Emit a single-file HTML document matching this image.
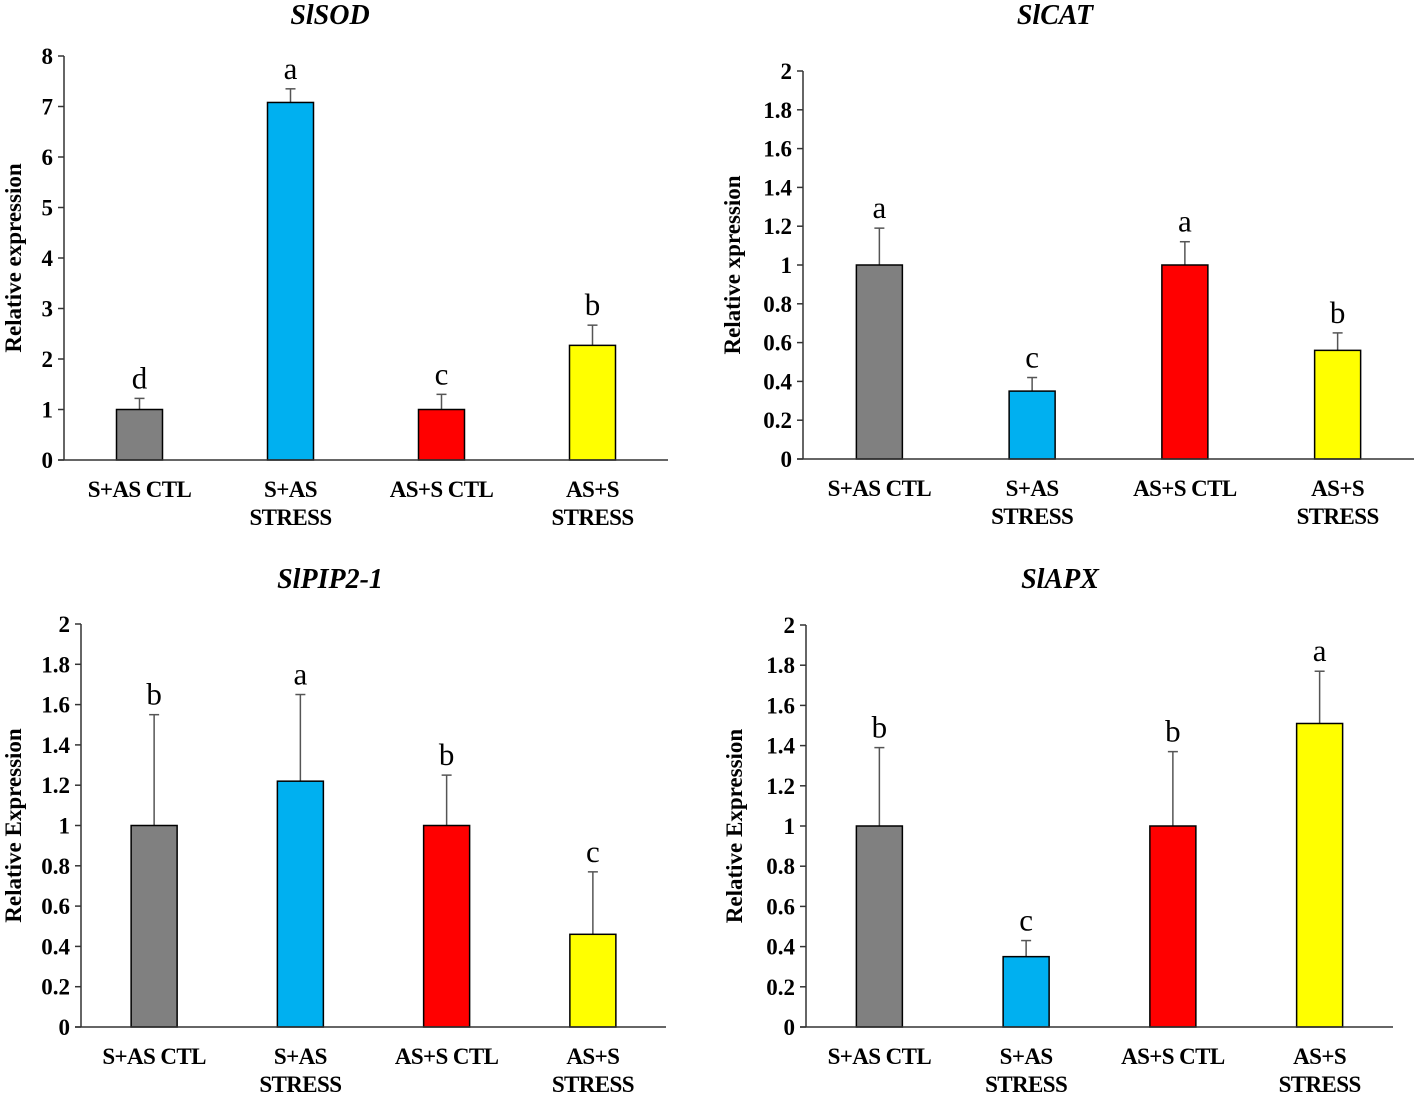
<!DOCTYPE html>
<html>
<head>
<meta charset="utf-8">
<style>
html,body{margin:0;padding:0;background:#fff;}
svg{display:block;}
svg text{font-family:"Liberation Serif",serif;fill:#000;}
.title{font-size:28px;font-weight:bold;font-style:italic;}
.ytitle{font-size:23px;font-weight:bold;}
.tick{font-size:23px;font-weight:bold;}
.letter{font-size:31px;}
.xlab{font-size:23px;font-weight:bold;letter-spacing:-0.6px;}
</style>
</head>
<body>
<svg id="fig" width="1417" height="1093" viewBox="0 0 1417 1093" xmlns="http://www.w3.org/2000/svg"></svg>
<script>
// Shared categories and colors
const categories = [["S+AS CTL"], ["S+AS", "STRESS"], ["AS+S CTL"], ["AS+S", "STRESS"]];
const barColors = ["#808080", "#00b0f0", "#ff0000", "#ffff00"];

// SlSOD
const sodValues = [1, 7.08, 1, 2.27];
const sodErrTop = [1.22, 7.35, 1.3, 2.67];
const sodLetters = ["d", "a", "c", "b"];
const sodTicks = ["0","1","2","3","4","5","6","7","8"];

// SlCAT
const catValues = [1, 0.35, 1, 0.56];
const catErrTop = [1.19, 0.42, 1.12, 0.65];
const catLetters = ["a", "c", "a", "b"];
const catTicks = ["0","0.2","0.4","0.6","0.8","1","1.2","1.4","1.6","1.8","2"];

// SlPIP2-1
const pipValues = [1, 1.22, 1, 0.46];
const pipErrTop = [1.55, 1.65, 1.25, 0.77];
const pipLetters = ["b", "a", "b", "c"];
const pipTicks = ["0","0.2","0.4","0.6","0.8","1","1.2","1.4","1.6","1.8","2"];

// SlAPX
const apxValues = [1, 0.35, 1, 1.51];
const apxErrTop = [1.39, 0.43, 1.37, 1.77];
const apxLetters = ["b", "c", "b", "a"];
const apxTicks = ["0","0.2","0.4","0.6","0.8","1","1.2","1.4","1.6","1.8","2"];

const NS = "http://www.w3.org/2000/svg";
const svg = document.getElementById("fig");

function mk(tag, attrs, parent) {
  const e = document.createElementNS(NS, tag);
  for (const k in attrs) e.setAttribute(k, attrs[k]);
  parent.appendChild(e);
  return e;
}

function panel(cfg) {
  const g = mk("g", {}, svg);
  
  
  const yMax = parseFloat(cfg.ticks[cfg.ticks.length - 1]);
  const yScale = v => cfg.y0 - (v / yMax) * (cfg.y0 - cfg.yTop);
  const step = (cfg.x1 - cfg.x0) / cfg.values.length;
  const xCenter = i => cfg.x0 + step * (i + 0.5);

  const t = mk("text", {x: cfg.titleX, y: cfg.titleY, "text-anchor": "middle", "class": "title"}, g);
  t.textContent = cfg.title;
  
  

  const yc = (cfg.y0 + cfg.yTop) / 2;
  const ya = mk("text", {x: 0, y: 0, transform: `translate(${cfg.yTitleX},${yc}) rotate(-90)`, "text-anchor": "middle", "class": "ytitle"}, g);
  ya.textContent = cfg.yTitle;
  
  

  cfg.ticks.forEach(lbl => {
    const v = parseFloat(lbl);
    const y = yScale(v);
    const tk = mk("line", {x1: cfg.x0 - 6, x2: cfg.x0, y1: y, y2: y, stroke: "#333", "stroke-width": 1.5}, g);
    
    
    const tl = mk("text", {x: cfg.x0 - 11, y: y + 8, "text-anchor": "end", "class": "tick"}, g);
    tl.textContent = lbl;
    
    
  });

  cfg.values.forEach((v, i) => {
    const cx = xCenter(i);
    const bw = 46;
    const top = yScale(v);
    const et = yScale(cfg.errTop[i]);
    const el = mk("line", {x1: cx, x2: cx, y1: top, y2: et, stroke: "#555", "stroke-width": 1.5}, g);
    
    
    const ec = mk("line", {x1: cx - 5, x2: cx + 5, y1: et, y2: et, stroke: "#555", "stroke-width": 1.5}, g);
    
    
    const r = mk("rect", {x: cx - bw / 2, y: top, width: bw, height: cfg.y0 - top, fill: barColors[i], stroke: "#000", "stroke-width": 1.5}, g);
    
    
    const lt = mk("text", {x: cx, y: et - 10, "text-anchor": "middle", "class": "letter"}, g);
    lt.textContent = cfg.letters[i];
    
    
    categories[i].forEach((line, j) => {
      const xl = mk("text", {x: cx, y: cfg.y0 + 37 + j * 28, "text-anchor": "middle", "class": "xlab"}, g);
      xl.textContent = line;
      
      
    });
  });

  const yl = mk("line", {x1: cfg.x0, x2: cfg.x0, y1: cfg.yTop, y2: cfg.y0, stroke: "#333", "stroke-width": 1.5}, g);
  
  
  const xl = mk("line", {x1: cfg.x0 - 6, x2: cfg.x1, y1: cfg.y0, y2: cfg.y0, stroke: "#333", "stroke-width": 1.5}, g);
  
  
}

panel({key: "slsod", title: "SlSOD", titleX: 330, titleY: 24, yTitle: "Relative expression", yTitleX: 21,
  x0: 64, x1: 668, y0: 460, yTop: 56, ticks: sodTicks, values: sodValues, errTop: sodErrTop, letters: sodLetters});
panel({key: "slcat", title: "SlCAT", titleX: 1055, titleY: 24, yTitle: "Relative xpression", yTitleX: 740,
  x0: 803, x1: 1414, y0: 459, yTop: 71, ticks: catTicks, values: catValues, errTop: catErrTop, letters: catLetters});
panel({key: "slpip2-1", title: "SlPIP2-1", titleX: 330, titleY: 588, yTitle: "Relative Expression", yTitleX: 21,
  x0: 81, x1: 666, y0: 1027, yTop: 624, ticks: pipTicks, values: pipValues, errTop: pipErrTop, letters: pipLetters});
panel({key: "slapx", title: "SlAPX", titleX: 1060, titleY: 588, yTitle: "Relative Expression", yTitleX: 742,
  x0: 806, x1: 1393, y0: 1027, yTop: 625, ticks: apxTicks, values: apxValues, errTop: apxErrTop, letters: apxLetters});
</script>
</body>
</html>
